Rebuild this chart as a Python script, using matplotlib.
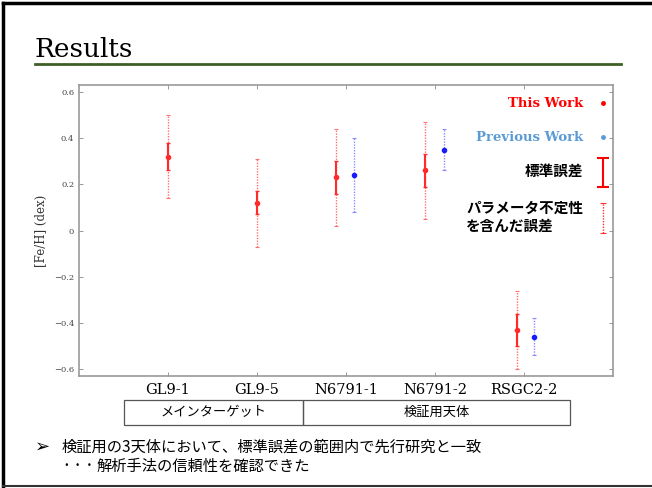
import matplotlib.pyplot as plt
from matplotlib.patches import Rectangle
from matplotlib.lines import Line2D

# [Fe/H] values
stars = ['GL9-1', 'GL9-5', 'N6791-1', 'N6791-2', 'RSGC2-2']
this_work = [0.32, 0.12, 0.23, 0.26, -0.43]
std_lo = [0.26, 0.07, 0.16, 0.19, -0.50]
std_hi = [0.38, 0.17, 0.30, 0.33, -0.36]
sys_lo = [0.14, -0.07, 0.02, 0.05, -0.60]
sys_hi = [0.50, 0.31, 0.44, 0.47, -0.26]

prev_work = [0.24, 0.35, -0.46]
prev_lo = [0.08, 0.26, -0.54]
prev_hi = [0.40, 0.44, -0.38]

groups = ['メインターゲット', '検証用天体']

jp = ['Noto Sans CJK JP', 'DejaVu Sans']
serif = ['DejaVu Serif']

fig = plt.figure(figsize=(6.52, 4.88), dpi=100)

W, H = 652.0, 488.0
def fx(px):
    return px / W
def fy(py):
    return 1 - py / H

# slide frame and title
fig.add_artist(Line2D([fx(3), fx(652)], [fy(3), fy(3)], color='black', lw=2.5))
fig.add_artist(Line2D([fx(3), fx(3)], [fy(3), fy(486)], color='black', lw=2.5))
fig.add_artist(Line2D([fx(3), fx(652)], [fy(486), fy(486)], color='#333333', lw=1.5))
fig.text(fx(34), fy(57), 'Results', family=serif, fontsize=19, va='baseline')
fig.add_artist(Line2D([fx(35), fx(621)], [fy(64), fy(64)], color='#3f5f26', lw=2))

ax = fig.add_axes([fx(79), fy(376), fx(613) - fx(79), fy(85) - fy(376)])

x = list(range(1, len(stars) + 1))
red_x = [1.0, 2.0, 2.89, 3.89, 4.92]
blue_x = [3.09, 4.10, 5.11]

dot = (0, (1, 1))
red_light = '#ff7070'
blue_light = '#8c8cff'

# systematic (dotted) errors, this work
eb = ax.errorbar(red_x, this_work,
                 yerr=[[v - l for v, l in zip(this_work, sys_lo)],
                       [h - v for v, h in zip(this_work, sys_hi)]],
                 fmt='none', ecolor=red_light, elinewidth=1, capsize=1.5, capthick=0.8)
eb[2][0].set_linestyle(dot)
# standard errors, this work
ax.errorbar(red_x, this_work,
            yerr=[[v - l for v, l in zip(this_work, std_lo)],
                  [h - v for v, h in zip(this_work, std_hi)]],
            fmt='o', color='#ff2a2a', ms=3, elinewidth=1.5, capsize=1.5, capthick=1)

# previous work
eb = ax.errorbar(blue_x, prev_work,
                 yerr=[[v - l for v, l in zip(prev_work, prev_lo)],
                       [h - v for v, h in zip(prev_work, prev_hi)]],
                 fmt='o', color='#1a1aff', ms=3, ecolor=blue_light,
                 elinewidth=1, capsize=1.5, capthick=0.8)
eb[2][0].set_linestyle(dot)

ax.set_xlim(0, 6)
ax.set_ylim(-0.63, 0.63)
ax.set_xticks(x)
ax.set_xticklabels(stars, family=serif, fontsize=10.5)
ax.set_yticks([-0.6, -0.4, -0.2, 0, 0.2, 0.4, 0.6])
ax.set_yticklabels(['−0.6', '−0.4', '−0.2', '0', '0.2', '0.4', '0.6'],
                   family=serif, fontsize=6, color='#444444')
ax.tick_params(direction='in', top=True, right=True, length=3, width=0.6, color='#888888')
ax.tick_params(axis='x', pad=5)
for s in ax.spines.values():
    s.set_color('#999999')
    s.set_linewidth(1.2)
ax.set_ylabel('[Fe/H] (dex)', family=serif, fontsize=8.5, color='#333333', labelpad=4)

# legend drawn by hand, as on the slide
tx, mx = 0.944, 0.981
ax.text(tx, 0.938, 'This Work', transform=ax.transAxes, ha='right', va='center',
        family=serif, fontweight='bold', fontsize=9.5, color='#ff0000')
ax.plot([mx], [0.938], 'o', color='#ff0000', ms=2.5, transform=ax.transAxes, clip_on=False)
ax.text(tx, 0.821, 'Previous Work', transform=ax.transAxes, ha='right', va='center',
        family=serif, fontweight='bold', fontsize=9.5, color='#5b9bd5')
ax.plot([mx], [0.821], 'o', color='#5b9bd5', ms=2.5, transform=ax.transAxes, clip_on=False)
ax.text(tx, 0.706, '標準誤差', transform=ax.transAxes, ha='right', va='center',
        family=jp, fontweight='bold', fontsize=10.5)
ax.errorbar([mx], [0.699], yerr=[0.05], fmt='none', ecolor='#ff0000', elinewidth=1.5,
            capsize=4, capthick=1.5, transform=ax.transAxes, clip_on=False)
ax.text(tx, 0.548, 'パラメータ不定性\nを含んだ誤差', transform=ax.transAxes, ha='right',
        multialignment='left', va='center', family=jp, fontweight='bold',
        fontsize=10.5, linespacing=1.15)
eb = ax.errorbar([mx], [0.542], yerr=[0.051], fmt='none', ecolor='#ff3030', elinewidth=1,
                 capsize=2.5, capthick=0.8, transform=ax.transAxes, clip_on=False)
eb[2][0].set_linestyle(dot)

# group table under the axis
for (l, r), g in zip([(124, 303), (303, 570)], groups):
    fig.add_artist(Rectangle((fx(l), fy(425)), fx(r) - fx(l), fy(400) - fy(425),
                             fill=False, edgecolor='#555555', lw=0.9))
    fig.text(fx((l + r) / 2), fy(412.5), g, ha='center', va='center', family=jp, fontsize=9.5)

# conclusion text
fig.text(fx(35), fy(447), '➢', family=['DejaVu Sans'], fontsize=13, va='center')
fig.text(fx(62), fy(447), '検証用の3天体において、標準誤差の範囲内で先行研究と一致',
         family=jp, fontsize=11, va='center')
fig.text(fx(60), fy(466), '・・・', family=jp, fontsize=8.5, va='center')
fig.text(fx(97), fy(466), '解析手法の信頼性を確認できた',
         family=jp, fontsize=11, va='center')

fig.savefig('out.png', dpi=100)
